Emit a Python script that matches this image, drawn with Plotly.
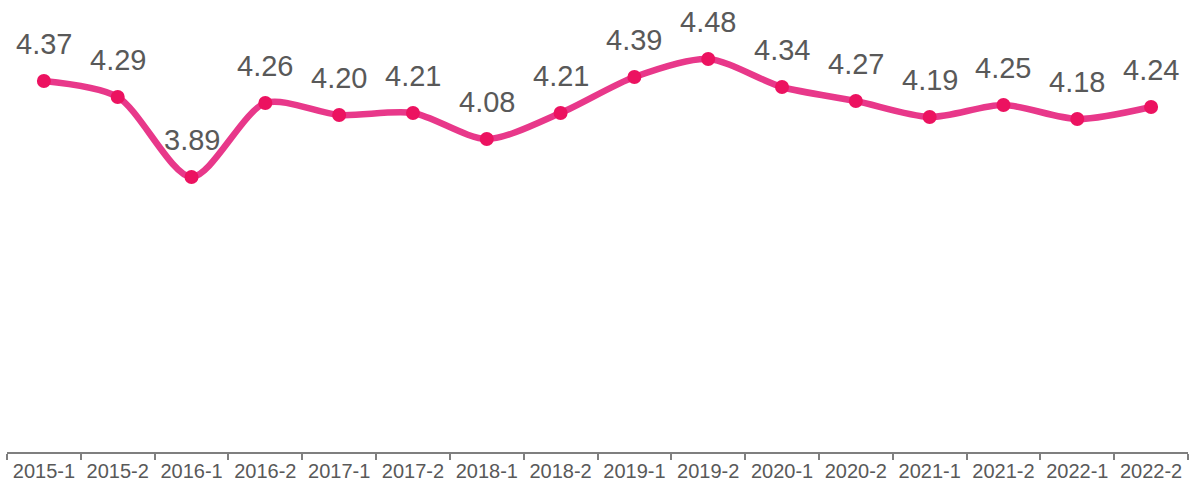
import plotly.graph_objects as go

categories = ["2015-1", "2015-2", "2016-1", "2016-2", "2017-1", "2017-2", "2018-1", "2018-2",
              "2019-1", "2019-2", "2020-1", "2020-2", "2021-1", "2021-2", "2022-1", "2022-2"]
values = [4.37, 4.29, 3.89, 4.26, 4.20, 4.21, 4.08, 4.21,
          4.39, 4.48, 4.34, 4.27, 4.19, 4.25, 4.18, 4.24]
labels = [f"{v:.2f}" for v in values]

fig = go.Figure()
fig.add_trace(go.Scatter(
    x=categories, y=values, mode="lines+markers",
    line=dict(color="#E8388A", width=6.5, shape="spline", smoothing=0.8),
    marker=dict(color="#EC1260", size=14),
    hoverinfo="skip", showlegend=False, cliponaxis=False,
))

for c, v, t in zip(categories, values, labels):
    fig.add_annotation(x=c, y=v, text=t, showarrow=False, yanchor="middle", yshift=37,
                       font=dict(family="Liberation Sans, Arial, sans-serif", size=29, color="#595959"))

fig.update_layout(
    width=1194, height=486,
    margin=dict(l=7, r=6, t=0, b=34, autoexpand=False),
    paper_bgcolor="white", plot_bgcolor="white",
    font=dict(family="Liberation Sans, Arial, sans-serif", color="#595959"),
)
fig.update_xaxes(
    type="category", range=[-0.5, 15.5], showgrid=False, zeroline=False, automargin=False,
    showline=True, linecolor="#7F7F7F", linewidth=1.5,
    ticks="outside", tickson="boundaries", ticklen=6, tickcolor="#7F7F7F", tickwidth=1.5,
    tickfont=dict(size=20, color="#595959"),
)
fig.update_yaxes(range=[2.515, 4.775], visible=False, showgrid=False, zeroline=False, automargin=False)

fig.write_html("out.html", config={"displayModeBar": False},
               post_script="document.body.style.margin='0';document.body.style.overflow='hidden';")
